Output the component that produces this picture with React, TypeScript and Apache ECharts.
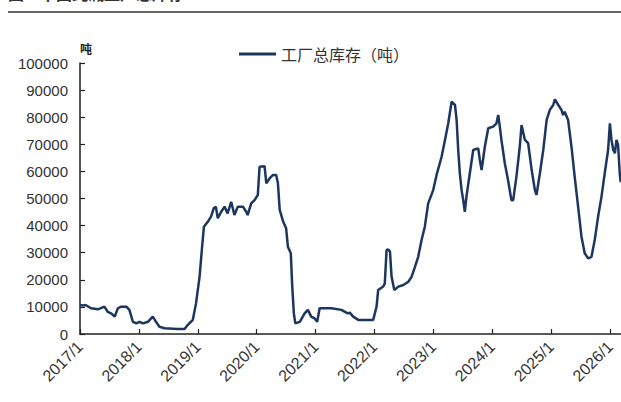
import React, { useEffect, useRef } from "react";
import * as echarts from "echarts";

const seriesName = "工厂总库存（吨）";
const titleText = "图：中国纯碱工厂总库存";
const unitText = "吨";
const yearTicks = [2017, 2018, 2019, 2020, 2021, 2022, 2023, 2024, 2025, 2026];

const dates: string[] = [
  "2017-01-01","2017-01-20","2017-02-05","2017-03-10","2017-04-22","2017-06-01","2017-06-22","2017-07-13","2017-08-04","2017-08-24",
  "2017-09-13","2017-10-15","2017-11-03","2017-11-25","2017-12-16","2018-01-05","2018-01-26","2018-02-26","2018-03-28","2018-04-17",
  "2018-05-08","2018-06-09","2018-08-29","2018-10-11","2018-10-30","2018-12-01","2018-12-21","2019-01-12","2019-01-26","2019-02-08",
  "2019-03-04","2019-03-24","2019-04-10","2019-04-23","2019-05-05","2019-05-26","2019-06-16","2019-07-05","2019-07-27","2019-08-16",
  "2019-09-06","2019-10-08","2019-10-28","2019-11-06","2019-11-28","2019-12-19","2020-01-08","2020-01-19","2020-02-19","2020-03-01",
  "2020-03-21","2020-04-12","2020-05-01","2020-05-12","2020-05-23","2020-06-14","2020-07-02","2020-07-13","2020-07-31","2020-08-08",
  "2020-08-19","2020-08-28","2020-09-25","2020-10-25","2020-11-14","2020-12-05","2020-12-25","2021-01-11","2021-01-26","2021-04-10",
  "2021-06-10","2021-07-19","2021-08-01","2021-08-22","2021-09-22","2021-11-03","2021-12-24","2022-01-14","2022-01-24","2022-02-24",
  "2022-03-06","2022-03-17","2022-03-27","2022-04-07","2022-04-17","2022-05-04","2022-05-29","2022-06-29","2022-07-30","2022-08-19",
  "2022-09-09","2022-09-29","2022-10-20","2022-11-09","2022-11-30","2022-12-31","2023-01-21","2023-02-21","2023-03-14","2023-04-03",
  "2023-04-24","2023-05-15","2023-05-25","2023-06-04","2023-06-14","2023-06-25","2023-07-05","2023-07-15","2023-07-25","2023-08-15",
  "2023-09-05","2023-10-06","2023-10-16","2023-10-27","2023-11-16","2023-12-07","2024-01-07","2024-01-27","2024-02-07","2024-02-17",
  "2024-02-27","2024-03-19","2024-04-08","2024-04-29","2024-05-10","2024-05-30","2024-06-20","2024-07-01","2024-07-22","2024-08-11",
  "2024-09-02","2024-09-22","2024-10-02","2024-10-23","2024-11-13","2024-12-04","2024-12-24","2025-01-14","2025-01-24","2025-02-14",
  "2025-03-06","2025-03-16","2025-03-26","2025-04-16","2025-05-07","2025-05-27","2025-06-17","2025-07-08","2025-07-28","2025-08-18",
  "2025-09-08","2025-09-28","2025-10-19","2025-11-09","2025-11-29","2025-12-20","2025-12-31","2026-01-10","2026-01-21","2026-01-31",
  "2026-02-10","2026-02-20","2026-03-02","2026-03-08"
];

const values: number[] = [
  10700,10500,10700,9500,9100,10100,8200,7600,6400,9500,
  10100,10100,8900,4500,3900,4500,3900,4500,6400,4500,
  2700,2100,1850,1850,3300,5200,11300,21100,31000,39600,
  41400,43300,46400,47000,42700,45100,47000,44500,48800,43900,
  47000,47000,45100,43900,48200,49400,51300,61700,61900,55600,
  57400,58700,58700,55600,45800,41400,39000,32200,29800,18700,
  7600,3900,4500,7600,8900,6400,5800,4500,9500,9500,
  8900,7600,7900,6400,5200,5200,5200,10100,16200,17500,
  18700,31000,31200,30400,21100,16200,17500,18100,19300,21100,
  24800,28500,34700,39600,48200,53100,58700,65400,71600,77700,
  85700,84500,79000,67900,59300,53100,49400,45100,50700,59300,
  67900,68500,64200,60500,69100,75900,76500,77700,80800,76500,
  71600,63000,56800,49400,49400,58000,69100,77100,71600,70400,
  60500,53100,51300,59300,67900,79000,82700,84500,86600,84500,
  82700,80800,82000,79000,69100,58000,47000,35900,29800,27900,
  28500,34700,43300,50700,59300,67900,77700,71600,67900,66700,
  71600,69700,59300,56000
];

function toYearFraction(d: string): number {
  const [y, m, day] = d.split("-").map(Number);
  const start = Date.UTC(y, 0, 1);
  const end = Date.UTC(y + 1, 0, 1);
  return y + (Date.UTC(y, m - 1, day) - start) / (end - start);
}

export default function App() {
  const ref = useRef<HTMLDivElement>(null);
  useEffect(() => {
    if (!ref.current) return;
    const chart = echarts.init(ref.current, null, { renderer: "svg" });
    const data = dates.map((d, i) => [toYearFraction(d), values[i]]);
    const font = "'Liberation Sans', Arial, sans-serif";
    const cjk = "'Noto Sans CJK SC', sans-serif";
    chart.setOption({
      animation: false,
      backgroundColor: "#ffffff",
      grid: { left: 80, right: 0, top: 63, bottom: 68, containLabel: false },
      legend: {
        left: 234,
        top: 41,
        itemWidth: 37,
        itemHeight: 3,
        itemGap: 6,
        icon: "rect",
        textStyle: { fontSize: 16, color: "#333", fontFamily: cjk },
        data: [seriesName],
      },
      graphic: [
        {
          type: "text",
          left: 8,
          top: -15,
          style: { text: titleText, fontSize: 16, fontWeight: "bold", fill: "#333", fontFamily: cjk },
        },
        {
          type: "line",
          shape: { x1: 8, y1: 12, x2: 621, y2: 12 },
          style: { stroke: "#333", lineWidth: 1.5 },
        },
        {
          type: "text",
          left: 80,
          top: 42,
          style: { text: unitText, fontSize: 12, fontWeight: "bold", fill: "#222", fontFamily: cjk },
        },
      ],
      xAxis: {
        type: "value",
        min: yearTicks[0],
        max: 2026.186,
        interval: 1,
        axisLine: { show: true, lineStyle: { color: "#222", width: 1.5 } },
        axisTick: { show: true, inside: true, length: 5, lineStyle: { color: "#222", width: 1.2 } },
        splitLine: { show: false },
        axisLabel: {
          rotate: 45,
          fontSize: 16,
          color: "#333",
          fontFamily: font,
          margin: 10,
          showMaxLabel: false,
          formatter: (v: number) => (yearTicks.includes(Math.round(v * 1000) / 1000) ? `${Math.round(v)}/1` : ""),
        },
      },
      yAxis: {
        type: "value",
        min: 0,
        max: 100000,
        interval: 10000,
        axisLine: { show: true, lineStyle: { color: "#222", width: 1.5 } },
        axisTick: { show: true, inside: true, length: 5, lineStyle: { color: "#222", width: 1.2 } },
        splitLine: { show: false },
        axisLabel: { fontSize: 15, color: "#333", fontFamily: font, margin: 12, formatter: (v: number) => String(v) },
      },
      series: [
        {
          name: seriesName,
          type: "line",
          data,
          showSymbol: false,
          symbol: "none",
          lineStyle: { color: "#1c3660", width: 2.5 },
          itemStyle: { color: "#1c3660" },
        },
      ],
    });
    return () => chart.dispose();
  }, []);
  return (
    <div
      ref={ref}
      style={{ position: "fixed", left: 0, top: 0, width: 621, height: 402, overflow: "hidden" }}
    />
  );
}
